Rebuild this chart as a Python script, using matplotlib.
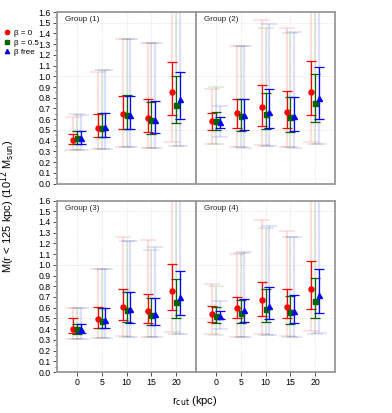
import matplotlib
matplotlib.use('Agg')
import matplotlib.pyplot as plt
import numpy as np

plt.rcParams['font.family'] = ['Liberation Sans', 'DejaVu Sans']

r_cut = [0, 5, 10, 15, 20]
groups = ['Group (1)', 'Group (2)', 'Group (3)', 'Group (4)']
labels = ['\u03b2 = 0', '\u03b2 = 0.5', '\u03b2 free']

# per group: [red, green, blue] -> value, inner lo, inner hi, outer lo, outer hi
g1_val = [[0.41, 0.52, 0.65, 0.61, 0.85], [0.42, 0.52, 0.64, 0.59, 0.73], [0.42, 0.53, 0.64, 0.59, 0.79]]
g1_lo = [[0.37, 0.43, 0.51, 0.48, 0.64], [0.37, 0.43, 0.51, 0.46, 0.56], [0.37, 0.43, 0.51, 0.47, 0.60]]
g1_hi = [[0.46, 0.65, 0.82, 0.79, 1.13], [0.49, 0.66, 0.83, 0.76, 1.00], [0.49, 0.66, 0.82, 0.77, 1.04]]
g1_olo = [[0.31, 0.32, 0.34, 0.33, 0.39], [0.31, 0.32, 0.34, 0.33, 0.35], [0.31, 0.32, 0.34, 0.33, 0.35]]
g1_ohi = [[0.62, 1.04, 1.35, 1.31, 1.9], [0.65, 1.06, 1.35, 1.31, 1.9], [0.64, 1.06, 1.35, 1.31, 1.9]]

g2_val = [[0.58, 0.66, 0.71, 0.67, 0.85], [0.58, 0.63, 0.65, 0.62, 0.75], [0.57, 0.64, 0.67, 0.63, 0.80]]
g2_lo = [[0.50, 0.52, 0.54, 0.52, 0.64], [0.50, 0.49, 0.505, 0.48, 0.57], [0.52, 0.50, 0.515, 0.49, 0.60]]
g2_hi = [[0.66, 0.79, 0.92, 0.86, 1.145], [0.67, 0.79, 0.84, 0.81, 1.02], [0.62, 0.79, 0.88, 0.81, 1.085]]
g2_olo = [[0.37, 0.34, 0.36, 0.34, 0.39], [0.37, 0.34, 0.35, 0.34, 0.37], [0.43, 0.33, 0.35, 0.33, 0.37]]
g2_ohi = [[0.88, 1.28, 1.53, 1.45, 1.9], [0.90, 1.28, 1.45, 1.40, 1.9], [0.72, 1.28, 1.49, 1.41, 1.9]]

g3_val = [[0.40, 0.49, 0.605, 0.57, 0.76], [0.40, 0.48, 0.58, 0.53, 0.65], [0.40, 0.485, 0.59, 0.537, 0.70]]
g3_lo = [[0.36, 0.41, 0.485, 0.455, 0.58], [0.35, 0.41, 0.465, 0.435, 0.50], [0.36, 0.41, 0.46, 0.435, 0.53]]
g3_hi = [[0.50, 0.605, 0.775, 0.73, 1.005], [0.45, 0.60, 0.75, 0.69, 0.87], [0.45, 0.60, 0.745, 0.69, 0.94]]
g3_olo = [[0.31, 0.32, 0.34, 0.33, 0.37], [0.31, 0.32, 0.33, 0.325, 0.35], [0.31, 0.32, 0.33, 0.325, 0.35]]
g3_ohi = [[0.60, 0.96, 1.26, 1.23, 1.9], [0.60, 0.96, 1.22, 1.14, 1.9], [0.60, 0.96, 1.22, 1.17, 1.9]]

g4_val = [[0.54, 0.60, 0.67, 0.61, 0.77], [0.525, 0.55, 0.59, 0.56, 0.66], [0.525, 0.58, 0.62, 0.57, 0.72]]
g4_lo = [[0.47, 0.50, 0.525, 0.505, 0.59], [0.455, 0.455, 0.47, 0.45, 0.505], [0.49, 0.47, 0.49, 0.455, 0.55]]
g4_hi = [[0.615, 0.70, 0.84, 0.775, 1.04], [0.61, 0.67, 0.77, 0.71, 0.875], [0.57, 0.68, 0.79, 0.72, 0.96]]
g4_olo = [[0.35, 0.33, 0.35, 0.34, 0.38], [0.345, 0.33, 0.345, 0.33, 0.35], [0.40, 0.33, 0.345, 0.33, 0.36]]
g4_ohi = [[0.82, 1.10, 1.42, 1.32, 1.9], [0.80, 1.11, 1.345, 1.26, 1.9], [0.665, 1.12, 1.36, 1.26, 1.9]]

data = [
    (g1_val, g1_lo, g1_hi, g1_olo, g1_ohi),
    (g2_val, g2_lo, g2_hi, g2_olo, g2_ohi),
    (g3_val, g3_lo, g3_hi, g3_olo, g3_ohi),
    (g4_val, g4_lo, g4_hi, g4_olo, g4_ohi),
]

colors = ['red', '#006400', 'blue']
markers = ['o', 's', '^']
offsets = [-0.75, 0.0, 0.75]

W, H = 392, 413
fig = plt.figure(figsize=(W / 100, H / 100), dpi=100)

lefts = [57, 196, 57, 196]
tops = [12, 12, 200.5, 200.5]
pw, ph = 139, 171.5

spine_col = '#999999'
handles = []
for k in range(4):
    l, t = lefts[k], tops[k]
    ax = fig.add_axes([l / W, 1 - (t + ph) / H, pw / W, ph / H])
    val, lo, hi, olo, ohi = data[k]
    x = np.array(r_cut, dtype=float)
    for j in range(3):
        v = np.array(val[j])
        xs = x + offsets[j]
        # outer (faint) error bars
        ax.errorbar(xs, v, yerr=[v - np.array(olo[j]), np.array(ohi[j]) - v],
                    fmt='none', ecolor=colors[j], alpha=0.13, elinewidth=1.6,
                    capsize=5.5, capthick=1.2, zorder=1)
        # inner error bars
        ax.errorbar(xs, v, yerr=[v - np.array(lo[j]), np.array(hi[j]) - v],
                    fmt='none', ecolor=colors[j], elinewidth=0.9,
                    capsize=3.6, capthick=0.9, zorder=2)
        h, = ax.plot(xs, v, linestyle='none', marker=markers[j],
                     color=colors[j], markersize=3.6, zorder=3)
        if k == 0:
            handles.append(h)

    ax.set_xlim(-4, 24)
    ax.set_ylim(0, 1.6)
    ax.set_xticks(r_cut)
    ax.set_yticks(np.arange(0, 1.61, 0.1))
    ax.set_yticks(np.arange(0.05, 1.6, 0.1), minor=True)
    for xv in r_cut:
        ax.axvline(xv, color='#dddddd', linestyle=':', linewidth=0.6, zorder=0)
    for yv in [0.5, 1.0, 1.5]:
        ax.axhline(yv, color='#dddddd', linestyle=':', linewidth=0.6, zorder=0)

    for s in ax.spines.values():
        s.set_color(spine_col)
        s.set_linewidth(1.3)

    ax.tick_params(axis='both', labelsize=6.3, length=3, width=0.6,
                   color='#333333', pad=1.5)
    ax.tick_params(axis='y', which='minor', length=1.8, width=0.5)
    if k % 2 == 0:
        ax.set_yticklabels([f'{t:.1f}' for t in np.arange(0, 1.61, 0.1)])
    else:
        ax.tick_params(axis='y', which='both', left=False, labelleft=False)
    if k < 2:
        ax.tick_params(axis='x', bottom=False, labelbottom=False)

    ax.text(0.06, 0.975, groups[k], transform=ax.transAxes, fontsize=5.8,
            va='top', ha='left', color='#222222')

fig.legend(handles, labels, loc='upper left', bbox_to_anchor=(0.0, 0.94),
           frameon=False, fontsize=5.8, handlelength=0.6, handletextpad=0.5,
           labelspacing=0.2, markerscale=0.85, borderaxespad=0.2)

fig.text(8 / W, 0.5, 'M(r < 125 kpc) (10$^{12}$ M$_{\\rm sun}$)', rotation=90,
         fontsize=8, ha='center', va='center')
fig.text(195 / W, 1 - 401 / H, 'r$_{\\rm cut}$ (kpc)', fontsize=8,
         ha='center', va='center')

fig.savefig('out.png', dpi=100)
